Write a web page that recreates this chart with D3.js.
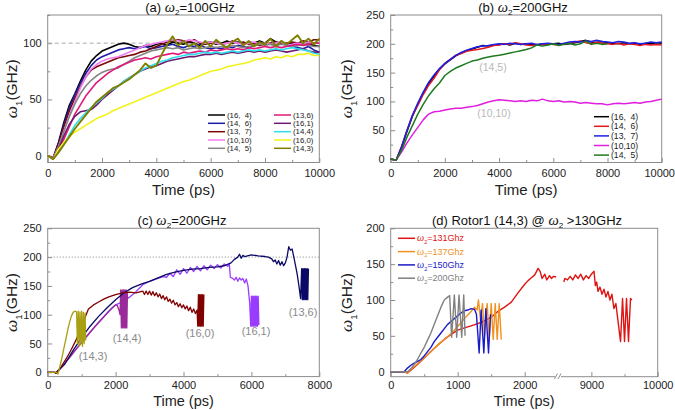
<!DOCTYPE html>
<html><head><meta charset="utf-8">
<script src="https://cdn.jsdelivr.net/npm/d3@7/dist/d3.min.js"></script>
<style>
body{margin:0;background:#fff}
svg{display:block}
text{font-family:"Liberation Sans",Arial,sans-serif}
</style>
</head><body>
<svg id="c" width="675" height="410"></svg>
<script>
// ---------------- Panel (a): omega2 = 100 GHz ----------------
const timeA = [0,200,400,600,800,1000,1200,1400,1600,1800,2000,2200,2400,2600,2800,3000,3200,3400,3600,3800,4000,4200,4400,4600,4800,5000,5200,5400,5600,5800,6000,6200,6400,6600,6800,7000,7200,7400,7600,7800,8000,8200,8400,8600,8800,9000,9200,9400,9600,9800,10000];
const a_16_4  = [0,-2,12,30,45,55,66,76,84,89,93,95,97,99,100,99,97,96,98,97,99,100,98,101,100,99,101,100,98,100,101,99,100,102,100,101,99,101,100,102,100,104,101,100,99,100,98,100,99,98,97];
const a_14_6  = [0,-2,11,28,43,54,64,73,80,85,88,90,92,94,95,96,95,96,97,95,96,97,98,99,97,96,98,97,99,96,95,96,95,97,96,98,97,96,98,99,100,99,98,100,99,97,96,95,97,94,92];
const a_13_7  = [0,-2,10,26,40,51,61,70,76,79,81,83,85,87,88,89,90,92,93,95,97,99,101,102,103,102,101,103,100,99,100,101,99,100,102,100,101,99,100,98,99,100,101,99,100,101,100,102,101,103,103];
const a_10_10 = [0,-2,8,22,36,48,60,70,77,81,84,86,87,88,90,92,94,96,98,99,100,101,102,103,102,101,103,102,101,100,101,100,99,100,101,100,99,100,101,99,100,99,100,101,98,99,100,99,101,100,100];
const a_14_5  = [0,-2,8,22,35,46,55,62,67,71,74,76,77,78,81,84,87,89,91,93,94,95,96,95,96,94,95,96,95,96,97,96,97,96,98,97,96,97,98,99,98,99,98,99,98,97,98,99,98,97,97];
const a_13_6  = [0,-2,5,15,26,37,45,53,59,65,69,73,76,79,81,83,85,86,87,86,88,89,90,91,90,92,91,92,93,92,94,93,94,95,94,95,94,96,95,96,97,96,97,96,97,98,99,98,99,100,100];
const a_16_1  = [0,-3,6,18,28,35,39,40,41,45,50,54,58,62,66,69,72,75,77,79,80,82,84,85,86,87,88,88,89,90,90,91,90,91,92,91,92,93,92,93,92,93,94,93,92,93,94,95,93,92,92];
const a_14_4  = [0,-3,3,10,19,27,33,38,43,47,51,56,59,62,66,69,72,75,78,80,82,84,85,87,88,89,90,90,91,92,91,92,91,92,93,92,93,94,93,94,93,94,95,94,95,96,95,94,93,91,90];
const a_16_0  = [0,-3,6,12,17,21,24,27,30,33,35,37,40,42,44,46,48,50,52,54,56,58,60,62,64,66,67,69,71,73,75,76,77,79,80,81,82,83,85,86,87,86,88,87,89,88,90,90,91,89,89];
const a_14_3  = [0,-3,3,10,17,24,30,36,42,48,52,56,60,62,65,68,72,76,82,78,80,90,99,106,98,102,97,100,96,102,97,103,99,96,101,104,98,102,97,101,99,104,97,102,99,103,107,100,104,99,104];
const labelsA = ["(16,  4)","(14,  6)","(13,  7)","(10,10)","(14,  5)","(13,6)","(16,1)","(14,4)","(16,0)","(14,3)"];
const colorsA = ["#000000","#1c1ca8","#7a0a0a","#f07ef0","#858585","#e0187a","#6e1a6e","#2ee0ee","#f2f21a","#7f7f00"];
const xTicksA = [0,2000,4000,6000,8000,10000];
const yTicksA = [0,50,100];

// ---------------- Panel (b): omega2 = 200 GHz ----------------
const b_16_4  = [0,-2,20,48,74,95,114,131,144,156,165,172,179,184,188,191,194,197,196,198,199,200,198,201,199,200,199,198,200,199,200,201,199,200,202,204,206,203,202,204,202,201,200,202,200,201,199,201,200,202,201];
const b_14_6  = [0,-2,22,50,75,93,112,128,140,155,166,173,180,183,187,189,190,192,194,197,198,200,199,202,200,198,197,199,198,200,199,198,200,201,203,205,202,200,203,201,200,199,201,198,200,199,197,199,198,199,198];
const b_13_7  = [0,-2,21,49,76,97,116,133,146,157,166,173,180,185,189,192,195,196,197,199,200,199,201,200,199,200,201,199,200,201,200,199,201,203,204,203,205,204,206,204,203,202,204,203,201,202,200,201,203,202,203];
const b_10_10 = [0,-2,12,28,42,55,68,78,82,83,85,87,88,88,90,91,93,96,99,101,103,102,101,100,101,100,102,101,104,101,100,101,99,100,99,97,98,97,96,96,94,96,97,96,97,98,97,99,100,102,104];
const b_14_5  = [0,-2,15,38,58,78,95,110,122,132,145,152,158,162,166,170,172,175,177,179,180,182,184,186,188,190,193,198,196,198,200,197,199,201,198,200,205,199,201,199,200];
const labelsB = ["(16,  4)","(14,  6)","(13,  7)","(10,10)","(14,  5)"];
const colorsB = ["#000000","#e8141e","#1e1ee6","#e01ee0","#1e7a1e"];
const yTicksB = [0,50,100,150,200,250];

// ---------------- Panel (c): omega2 = 200 GHz, breaking rotors ----------------
const tC_14_3 = [0,250,300,350,400,450,500,550,600,650,700,750,800,850,875,900,925,950,975,1000,1025,1050,1075,1100,1120];
const vC_14_3 = [0,0,-3,8,20,34,48,62,76,88,98,104,106,105,50,106,46,105,48,106,45,104,50,103,55];
const tC_13_6 = [0,250,500,750,1000,1250,1500,1750,2000,2250,2500,2750,3000,3250,3500,3750,4000,4250,4500,4750,5000,5200,5400,5500,5600,5650,5700,5750,5800,6000,6200,6400,6500,6600,6650,6700,6750,6800,6850,6900,6950,7000,7050,7100,7150,7200,7250,7300,7350,7400,7450,7480,7500,7520,7540,7560,7580,7600,7620,7640,7660,7680];
const vC_13_6 = [0,0,14,38,60,80,97,112,126,138,147,153,158,164,170,174,177,179,180,182,183,185,190,196,200,205,198,203,201,204,202,201,200,197,192,195,188,194,186,192,185,190,200,218,212,214,200,185,170,150,128,180,126,180,126,180,126,180,126,180,126,180];
const tC_16_0 = [0,200,250,400,550,700,850,1000,1100,1200,1350,1500,1650,1800,2000,2200,2400,2600,2800,2850,2900,2950,3000,3050,3100,3150,3200,3250,3300,3350,3400,3450,3500,3550,3600,3650,3700,3750,3800,3850,3900,3950,4000,4050,4100,4150,4200,4250,4300,4350,4400,4420,4440,4460,4480,4500,4520,4540,4560,4580,4600];
const vC_16_0 = [0,0,-2,10,24,40,58,79,95,110,117,122,127,131,135,138,139,138,141,135,141,135,141,134,140,133,138,131,136,128,133,126,131,123,127,120,125,117,121,114,119,112,117,110,115,107,113,104,110,102,108,80,135,80,135,80,135,80,135,80,135];
const tC_14_4 = [0,200,250,400,550,700,850,1000,1200,1400,1600,1800,1900,2000,2050,2100,2130,2150,2170,2190,2210,2230,2250,2270,2290,2310,2330,2350];
const vC_14_4 = [0,0,-2,8,19,30,41,52,66,80,93,106,112,117,116,108,100,143,77,143,77,143,77,143,77,143,77,140];
const tC_16_1 = [0,200,250,400,550,700,850,1000,1200,1400,1600,1800,2000,2200,2400,2600,2800,3000,3200,3400,3500,3600,3700,3800,3900,4000,4100,4200,4300,4400,4500,4600,4700,4800,4900,5000,5100,5200,5300,5350,5380,5450,5500,5550,5600,5650,5700,5750,5800,5850,5900,5950,5980,6000,6020,6040,6060,6080,6100,6120,6140,6160,6180,6200,6220];
const vC_16_1 = [0,0,-2,8,19,30,41,52,66,80,93,106,117,122,130,140,152,158,162,166,165,172,166,178,170,180,172,182,175,184,176,185,178,186,180,187,181,188,184,188,165,163,160,165,158,164,160,163,155,162,150,120,80,132,80,132,80,132,80,132,80,132,80,132,82];
const labelsC = ["(14,3)","(14,4)","(16,0)","(16,1)","(13,6)"];
const colorsC = {"(14,3)":"#a8a010","(13,6)":"#0a0a66","(16,0)":"#800000","(14,4)":"#9a2a9a","(16,1)":"#9a3cff"};
const xTicksC = [0,2000,4000,6000,8000];

// ---------------- Panel (d): Rotor1 (14,3) ----------------
const tD_131a = [0,200,250,300,400,500,600,700,800,900,1000,1100,1200,1300,1400,1500,1600,1700,1800,1900,2000,2050,2100,2150,2200,2230,2260,2300,2330,2370,2400,2430,2470];
const vD_131a = [0,0,-2,2,10,19,28,37,45,52,58,61,64,67,71,76,84,90,97,110,122,127,131,135,144,140,130,136,128,134,130,133,132];
const tD_131b = [8584,8600,8640,8680,8720,8760,8800,8840,8880,8920,8960,9000,9040,9060,9080,9100,9130,9160,9190,9220,9250,9280,9310,9340,9370,9400,9440,9470,9500,9530,9560,9590,9610];
const vD_131b = [125,130,128,133,128,135,130,136,128,134,130,136,140,120,125,112,118,108,115,104,112,100,108,88,95,72,42,102,42,102,42,102,100];
const tD_137 = [0,200,250,300,400,500,600,700,800,900,1000,1100,1200,1250,1290,1310,1340,1370,1400,1440,1470,1500,1530,1560,1590,1620,1650];
const vD_137 = [0,0,-2,3,11,19,28,37,45,53,63,74,84,90,86,100,72,95,50,95,45,95,45,95,45,95,45];
const tD_150 = [0,150,200,250,300,350,400,450,500,550,600,650,700,750,800,850,900,950,1000,1050,1100,1150,1200,1250,1280,1320,1350,1390,1420,1460,1490];
const vD_150 = [0,0,0,5,9,12,14,17,22,28,34,42,48,54,60,66,70,74,78,82,85,86,88,87,80,26,86,26,88,26,80];
const tD_200 = [0,200,250,300,350,400,450,500,550,600,650,700,750,800,850,880,910,950,985,1020,1060,1090,1110];
const vD_200 = [0,0,0,4,10,17,26,34,44,54,66,78,90,100,104,106,48,107,48,107,48,107,50];
const labelsD = ["131Ghz","137Ghz","150Ghz","200Ghz"];
const colorsD = ["#de1414","#f0901e","#1a1ac8","#808080"];
const xTicksD = [0,1000,2000,9000,10000];
const yTicksD = [0,50,100,150,200];

// ================== drawing ==================
const svg = d3.select('#c');
const FR = '#8c8c8c';

function zip(t, v){ return t.map((d,i)=>[d, v[i]]); }

function omega(sel, pre, sub, post, size){
  if(pre) sel.append('tspan').text(pre);
  sel.append('tspan').attr('font-family','"Liberation Serif",serif').attr('font-style','italic').attr('font-size',size*1.12).text('ω');
  sel.append('tspan').attr('font-size',size*0.62).attr('dy',size*0.28).text(sub);
  sel.append('tspan').attr('dy',-size*0.28).text(post);
}

function frame(o){
  const g = svg.append('g');
  const xr = o.x.range(), yr = o.y.range();
  const x0 = xr[0], x1 = xr[xr.length-1], yb = yr[0], yt = yr[1];
  g.append('g').attr('transform',`translate(0,${yb})`)
    .call(d3.axisBottom(o.x).tickValues(o.xminor).tickSize(-2.5).tickFormat(''));
  g.append('g').attr('transform',`translate(${x0},0)`)
    .call(d3.axisLeft(o.y).tickValues(o.yminor).tickSize(-2.5).tickFormat(''));
  const bx = g.append('g').attr('transform',`translate(0,${yb})`)
    .call(d3.axisBottom(o.x).tickValues(o.xticks).tickSize(-4.5).tickPadding(o.xpad).tickFormat(d3.format('d')));
  g.append('g').attr('transform',`translate(${x0},0)`)
    .call(d3.axisLeft(o.y).tickValues(o.yticks).tickSize(-4.5).tickPadding(6).tickFormat(d3.format('d')));
  g.selectAll('.domain').remove();
  g.selectAll('.tick line').attr('stroke',FR).attr('stroke-width',1);
  g.selectAll('.tick text').attr('font-size',11).attr('fill','#222').attr('font-family','"Liberation Sans",Arial,sans-serif');
  if(o.lastDx) bx.selectAll('.tick text').filter(d=>d===o.xticks[o.xticks.length-1]).attr('dx',o.lastDx);
  g.append('rect').attr('x',x0).attr('y',yt).attr('width',x1-x0).attr('height',yb-yt)
    .attr('fill','none').attr('stroke',FR).attr('stroke-width',1);
  const tt = g.append('text').attr('x',o.tx).attr('y',o.ty).attr('text-anchor','middle').attr('font-size',13).attr('fill','#111');
  omega(tt, o.tpre, '2', o.tpost, 13);
  g.append('text').attr('x',(x0+x1)/2).attr('y',o.xly).attr('text-anchor','middle').attr('font-size',o.xls||15).attr('fill','#222').text('Time (ps)');
  const yl = g.append('text').attr('transform',`translate(${o.ylx},${(yt+yb)/2}) rotate(-90)`).attr('text-anchor','middle').attr('dy','0.35em').attr('font-size',15.5).attr('fill','#222');
  omega(yl, '', '1', '(GHz)', 15.5);
  return g;
}

function drawLine(g, x, y, pts, color, w){
  g.append('path').datum(pts).attr('fill','none').attr('stroke',color).attr('stroke-width',w||1.3)
    .attr('stroke-linejoin','round').attr('d', d3.line().x(d=>x(d[0])).y(d=>y(d[1])));
}

function legendText(g, x, y, size, color, txt){
  return g.append('text').attr('x',x).attr('y',y).attr('dy','0.35em').attr('font-size',size).attr('fill',color)
    .attr('xml:space','preserve').style('white-space','pre').text(txt);
}

// ---- (a) ----
{
  const x = d3.scaleLinear().domain([0,10000]).range([47.7,319.3]);
  const y = d3.scaleLinear().domain([-6,125]).range([162.5,15]);
  const g = frame({x,y,xticks:xTicksA,xminor:[1000,3000,5000,7000,9000],yticks:yTicksA,yminor:[25,75,125],xpad:6.5,
    tx:190,ty:11.5,tpre:'(a) ',tpost:'=100GHz',xly:195,ylx:12});
  g.append('line').attr('x1',x(0)).attr('x2',x(10000)).attr('y1',y(100)).attr('y2',y(100))
    .attr('stroke','#a8a8a8').attr('stroke-dasharray','4,3').attr('stroke-width',1);
  const series = [a_16_4,a_14_6,a_13_7,a_10_10,a_14_5,a_13_6,a_16_1,a_14_4,a_16_0,a_14_3];
  series.forEach((s,i)=> drawLine(g,x,y,zip(timeA,s),colorsA[i], i===9?1.9:1.6));
  const rows=[115,123.3,131.7,140,148.3];
  labelsA.forEach((lab,i)=>{
    const col = Math.floor(i/5), r = i%5;
    const lx = col? 274:208;
    g.append('line').attr('x1',lx).attr('x2',lx+17).attr('y1',rows[r]).attr('y2',rows[r]).attr('stroke',colorsA[i]).attr('stroke-width',1.5);
    legendText(g, lx+19, rows[r], 7.8, '#222', lab);
  });
}
// ---- (b) ----
{
  const x = d3.scaleLinear().domain([0,10000]).range([390.7,661.7]);
  const y = d3.scaleLinear().domain([-6,250]).range([162.5,15]);
  const g = frame({x,y,xticks:xTicksA,xminor:[1000,3000,5000,7000,9000],yticks:yTicksB,yminor:[25,75,125,175,225],xpad:6.5,
    tx:523,ty:11.5,tpre:'(b) ',tpost:'=200GHz',xly:195,ylx:347,lastDx:-2.5});
  const series = [b_16_4,b_14_6,b_13_7,b_10_10,b_14_5];
  series.forEach((s,i)=> drawLine(g,x,y,zip(timeA.slice(0,s.length),s),colorsB[i],1.5));
  g.append('text').attr('x',493).attr('y',67).attr('dy','0.35em').attr('text-anchor','middle').attr('font-size',10.5).attr('fill','#b8b8b8').text('(14,5)');
  g.append('text').attr('x',494).attr('y',113).attr('dy','0.35em').attr('text-anchor','middle').attr('font-size',10.5).attr('fill','#b8b8b8').text('(10,10)');
  const rows=[116.7,126.3,135.9,145.5,155.1];
  labelsB.forEach((lab,i)=>{
    g.append('line').attr('x1',594).attr('x2',609).attr('y1',rows[i]).attr('y2',rows[i]).attr('stroke',colorsB[i]).attr('stroke-width',1.5);
    legendText(g, 611, rows[i], 8.6, '#222', lab);
  });
}
// ---- (c) ----
{
  const x = d3.scaleLinear().domain([0,8000]).range([47.7,319.3]);
  const y = d3.scaleLinear().domain([-7.5,250]).range([376.6,228.3]);
  const g = frame({x,y,xticks:xTicksC,xminor:[1000,3000,5000,7000],yticks:yTicksB,yminor:[25,75,125,175,225],xpad:5,
    tx:182,ty:224.5,tpre:'(c) ',tpost:'=200GHz',xly:406,xls:14.5,ylx:12});
  g.append('line').attr('x1',x(0)).attr('x2',x(8000)).attr('y1',y(200)).attr('y2',y(200))
    .attr('stroke','#999').attr('stroke-dasharray','1.2,1.8').attr('stroke-width',1);
  drawLine(g,x,y,zip(tC_16_1,vC_16_1),colorsC["(16,1)"],1.3);
  drawLine(g,x,y,zip(tC_14_4,vC_14_4),colorsC["(14,4)"],1.3);
  drawLine(g,x,y,zip(tC_13_6,vC_13_6),colorsC["(13,6)"],1.3);
  drawLine(g,x,y,zip(tC_16_0,vC_16_0),colorsC["(16,0)"],1.3);
  drawLine(g,x,y,zip(tC_14_3,vC_14_3),colorsC["(14,3)"],1.3);
  const lp = [[93,356],[127,338],[200,333],[256,331],[303,312]];
  labelsC.forEach((lab,i)=> g.append('text').attr('x',lp[i][0]).attr('y',lp[i][1]).attr('dy','0.35em').attr('text-anchor','middle').attr('font-size',11).attr('fill','#8a8a8a').text(lab));
}
// ---- (d) ----
{
  const x = d3.scaleLinear().domain([0,2500,8500,10000]).range([390.7,558.2,558.2,657.7]);
  const y = d3.scaleLinear().domain([-7,200]).range([376.7,228.3]);
  const g = frame({x,y,xticks:xTicksD,xminor:[500,1500,9500],yticks:yTicksD,yminor:[25,75,125,175],xpad:5,
    tx:527,ty:224.5,tpre:'(d) Rotor1 (14,3) @ ',tpost:' >130GHz',xly:406,xls:14.5,ylx:347});
  g.append('rect').attr('x',555).attr('y',374).attr('width',6).attr('height',5).attr('fill','#fff');
  [554.5,558].forEach(bx=> g.append('line').attr('x1',bx).attr('x2',bx+3).attr('y1',379).attr('y2',373.5).attr('stroke',FR).attr('stroke-width',1));
  drawLine(g,x,y,zip(tD_131a,vD_131a),colorsD[0],1.4);
  drawLine(g,x,y,zip(tD_131b,vD_131b),colorsD[0],1.4);
  drawLine(g,x,y,zip(tD_137,vD_137),colorsD[1],1.4);
  drawLine(g,x,y,zip(tD_150,vD_150),colorsD[2],1.4);
  drawLine(g,x,y,zip(tD_200,vD_200),colorsD[3],1.4);
  const rows=[238.3,251.6,264.9,278.2];
  labelsD.forEach((lab,i)=>{
    g.append('line').attr('x1',398).attr('x2',415).attr('y1',rows[i]).attr('y2',rows[i]).attr('stroke',colorsD[i]).attr('stroke-width',1.5);
    const t = g.append('text').attr('x',417).attr('y',rows[i]).attr('dy','0.35em').attr('font-size',9).attr('fill',colorsD[i]);
    omega(t,'','2','='+lab,9);
  });
}
</script>
</body></html>
